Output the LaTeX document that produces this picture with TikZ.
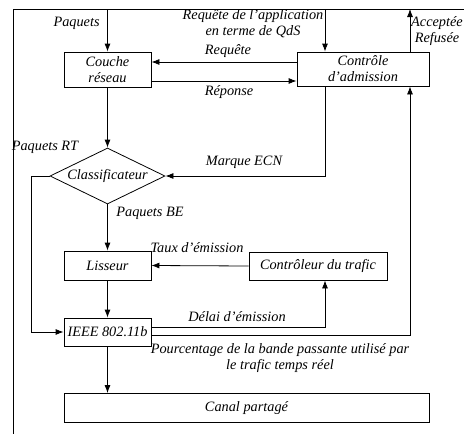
\documentclass[tikz,border=0pt]{standalone}
\usepackage{fontspec}
\setmainfont{Liberation Serif}
\usetikzlibrary{arrows.meta,shapes.geometric}

\begin{document}
\begin{tikzpicture}[
      x=1pt, y=-1pt,
      font=\fontsize{14.3}{16}\selectfont\itshape,
      line width=0.8pt,
      arr/.style={-{Latex[length=8pt,width=6pt]}},
      box/.style={
        draw, inner sep=0pt, minimum width=87pt, minimum height=29pt,
        align=center
      },
      decision/.style={
        draw, diamond, aspect=2, inner sep=0pt,
        minimum width=115pt, minimum height=56pt
      },
      lbl/.style={align=center, inner sep=1pt}
    ]
    \useasboundingbox (0,0) rectangle (464,434);

    % open frame (left and top)
    \draw (13,434) -- (13,9) -- (464,9);

    \node[box, minimum height=35pt] (couche) at (107.5,69.5) {Couche\\réseau};
    \node[box, minimum width=132pt, minimum height=34pt] (ctrl) at (363,69) {Contrôle\\d'admission};
    \node[decision] (clas) at (107.5,176) {Classificateur};
    \node[box] (liss) at (107.5,265.5) {Lisseur};
    \node[box, minimum width=138pt, minimum height=28pt] (traf) at (318,266) {Contrôleur du trafic};
    \node[box, minimum height=28pt] (ieee) at (107.5,332) {IEEE 802.11b};
    \node[box, minimum width=365pt] (canal) at (246.5,408) {Canal partagé};

    \coordinate (in1) at (107.5,9);
    \coordinate (in2) at (325,9);
    \coordinate (out1) at (410,9);
    \coordinate (rt) at (31,0);

    % labels
    \node[lbl, anchor=east] (lpaq) at (101,23) {Paquets};
    \node[lbl] (lreq) at (253,24) {Requête de l'application\\en terme de QdS};
    \node[lbl] (lreq2) at (228,51) {Requête};
    \node[lbl] (lrep) at (229,92) {Réponse};
    \node[lbl, inner sep=0pt] (lacc) at (437,31) {Acceptée\\Refusée};
    \node[lbl] (lrt) at (45,147) {Paquets RT};
    \node[lbl] (lecn) at (244,162) {Marque ECN};
    \node[lbl] (lbe) at (150,213) {Paquets BE};
    \node[lbl] (ltaux) at (197,248) {Taux d'émission};
    \node[lbl] (ldel) at (237,317) {Délai d'émission};
    \node[lbl] (lpct) at (280,358) {Pourcentage de la bande passante utilisé par\\le trafic temps réel};

    % connectors
    \draw[arr] (in1) -- (couche);
    \draw[arr] (in2) -- (in2 |- ctrl.north);
    \draw[arr] ([yshift=7pt]ctrl.west) -- ([yshift=7pt]couche.east |- ctrl.west);
    \draw[arr] ([yshift=-11.5pt]couche.east) -- ([yshift=-11.5pt]ctrl.west |- couche.east);
    \draw[arr] (out1 |- ctrl.north) -- (out1);
    \draw[arr] (couche) -- (clas);
    \draw[arr] (in2 |- ctrl.south) |- (clas.east);
    \draw[arr] (clas.west) -| (rt |- ieee.west) -- (ieee.west);
    \draw[arr] (clas) -- (liss);
    \draw[arr] (traf.west) -- (liss.east);
    \draw[arr] (liss) -- (ieee);
    \draw[arr] ([yshift=5pt]ieee.east) -| (in2 |- traf.south);
    \draw[arr] ([yshift=-3pt]ieee.east) -| (out1 |- ctrl.south);
    \draw[arr] (ieee) -- (ieee |- canal.north);
  \end{tikzpicture}
\end{document}
